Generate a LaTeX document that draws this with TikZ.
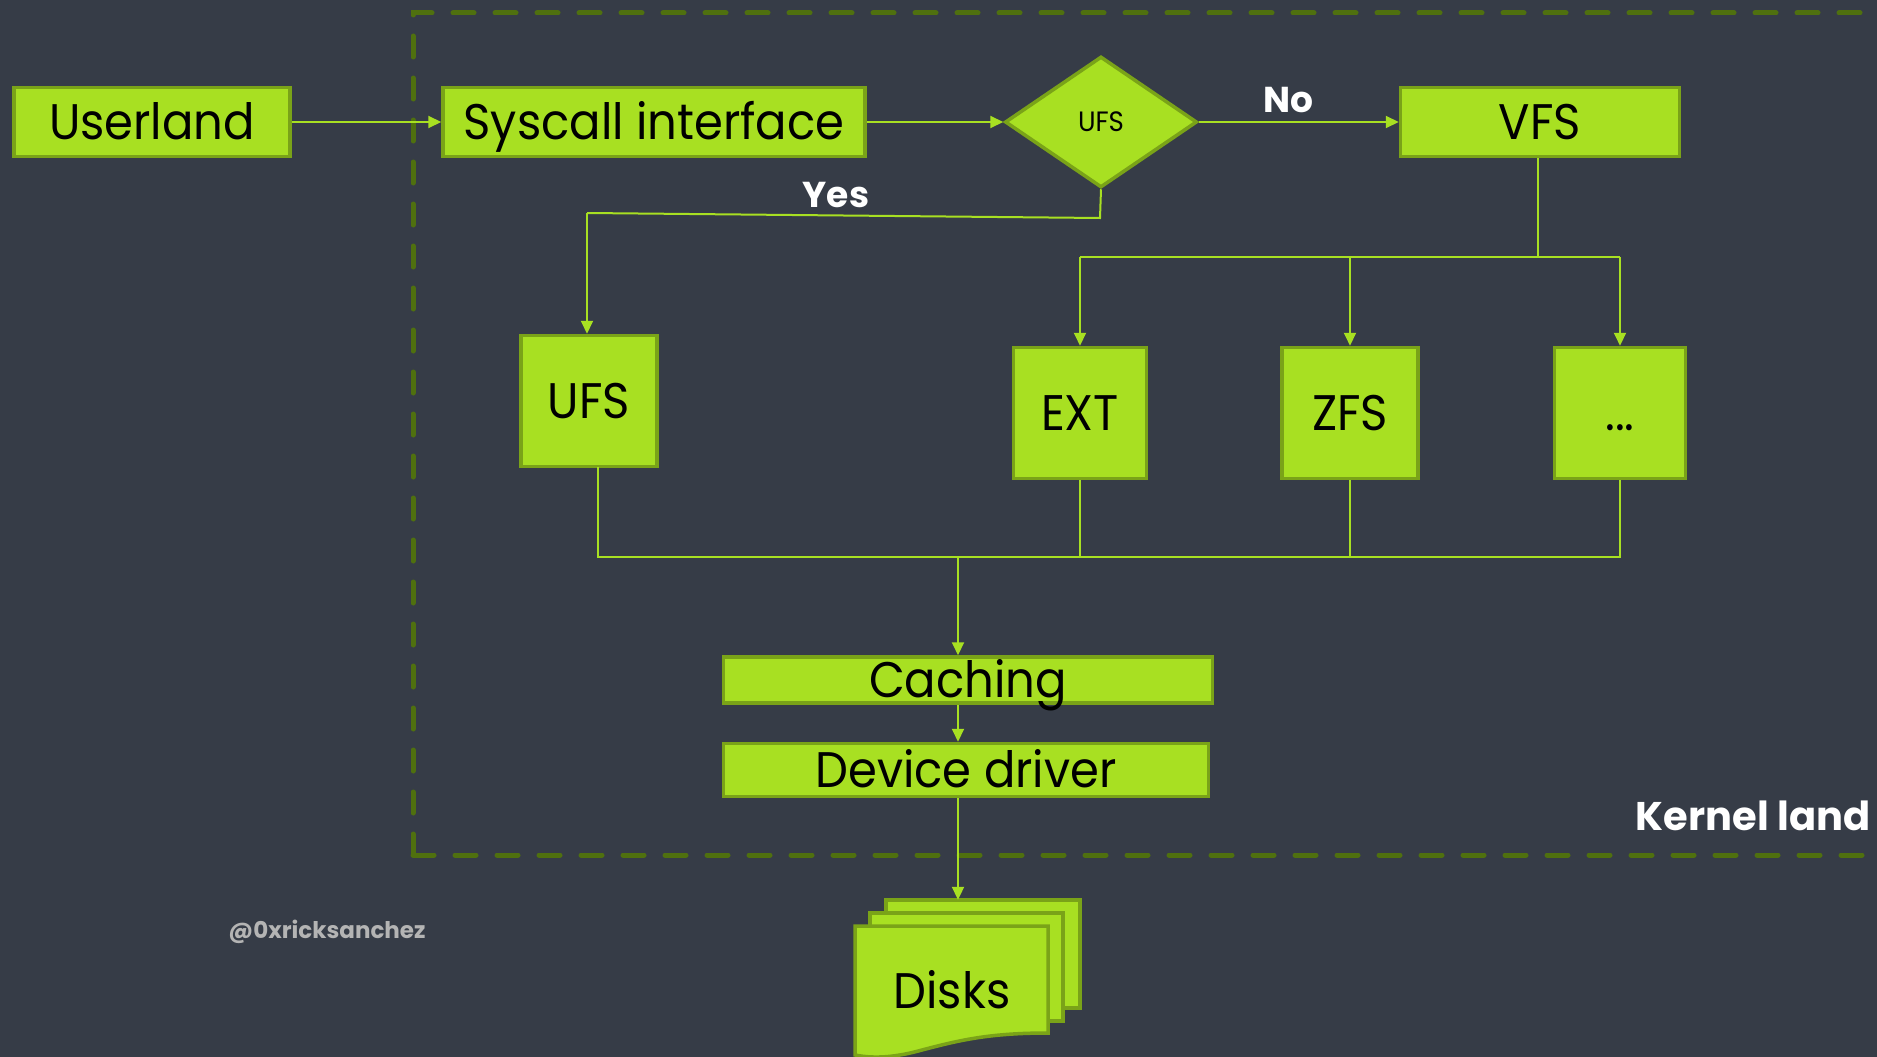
\documentclass[tikz,border=0pt]{standalone}
\usepackage{fontspec}
\setmainfont{Poppins}
\newfontfamily\labelfont{Poppins}[FakeStretch=0.93]
\usetikzlibrary{arrows.meta,shapes.geometric}
\definecolor{bg}{HTML}{363C47}
\definecolor{lime}{HTML}{A8E022}
\definecolor{limedark}{HTML}{7AA318}
\definecolor{olive}{HTML}{4F700F}
\definecolor{credit}{HTML}{B4B4B4}
\tikzset{
  box/.style={draw=limedark, fill=lime, line width=3.5pt, inner sep=0pt,
    text=black, text height=35pt, text depth=0pt,
    font=\labelfont\fontsize{50}{56}\selectfont},
  decision/.style={diamond, draw=limedark, fill=lime, line width=3.5pt,
    inner sep=0pt, text=black, text height=19.5pt, text depth=0pt,
    font=\labelfont\fontsize{28}{32}\selectfont},
  wire/.style={draw=lime, line width=2pt},
  flow/.style={wire, -{Triangle[length=13pt,width=12pt]}},
  answer/.style={text=white, font=\bfseries\fontsize{36}{40}\selectfont},
  sheet/.style={draw=limedark, fill=lime, line width=3.5pt, line join=miter}
}
\begin{document}
\begin{tikzpicture}[x=1pt,y=-1pt]
\useasboundingbox (0,0) rectangle (1877,1057);
\fill[bg] (0,0) rectangle (1877,1057);
\clip (0,0) rectangle (1877,1057);

% kernel boundary
\draw[olive, line width=5pt, line cap=round, dash pattern=on 21pt off 21pt]
  (413,855) -- (413,13) -- (1900,13);
\draw[olive, line width=5pt, line cap=round, dash pattern=on 21pt off 21pt]
  (413,855) -- (1900,855);
\node[answer, font=\bfseries\fontsize{40}{44}\selectfont, anchor=east] (kernel) at (1874,816) {Kernel land};

% top row
\node[box, minimum width=276pt, minimum height=69pt] (user) at (152,122) {Userland};
\node[box, minimum width=422pt, minimum height=69pt] (sys) at (654,122) {Syscall interface};
\node[decision, minimum width=192pt, minimum height=131pt] (isufs) at (1101,122) {UFS};
\node[box, minimum width=279pt, minimum height=69pt] (vfs) at (1540,122) {VFS};

\draw[flow] (user) -- (sys);
\draw[flow] (sys) -- (isufs);
\draw[flow] (isufs) -- (vfs);
\node[answer] (no) at (1288,100) {No};
\node[answer] (yes) at (836,195) {Yes};

% file systems
\node[box, minimum width=136pt, minimum height=131pt] (ufs) at (589,401) {UFS};
\node[box, minimum width=133pt, minimum height=131pt] (ext) at (1080,413) {EXT};
\node[box, minimum width=136pt, minimum height=131pt] (zfs) at (1350,413) {ZFS};
\node[box, minimum width=131pt, minimum height=131pt] (more) at (1620,413) {...};

% yes branch
\coordinate (ybend) at (1100,218);
\coordinate (yleft) at (587,213);
\draw[wire] (isufs.south) -- (ybend) -- (yleft);
\draw[flow] (yleft) -- (yleft |- ufs.north);

% vfs fan-out
\coordinate (vsplit) at (1538,257);
\draw[wire] (vfs.south -| vsplit) -- (vsplit);
\draw[wire] (ext.north |- vsplit) -- (more.north |- vsplit);
\draw[flow] (ext.north |- vsplit) -- (ext.north);
\draw[flow] (zfs.north |- vsplit) -- (zfs.north);
\draw[flow] (more.north |- vsplit) -- (more.north);

% merge into cache
\node[box, minimum width=489pt, minimum height=46pt] (cache) at (968,680) {Caching};
\node[box, minimum width=485pt, minimum height=53pt] (driver) at (966,770) {Device driver};
\coordinate (ufsout) at (598,467);
\coordinate (merge) at (958,557);
\draw[wire] (ufsout) -- (ufsout |- merge) -- (more.south |- merge) -- (more.south);
\draw[wire] (ext.south) -- (ext.south |- merge);
\draw[wire] (zfs.south) -- (zfs.south |- merge);
\draw[flow] (merge) -- (merge |- cache.north);
\draw[flow] (merge |- cache.south) -- (merge |- driver.north);

% disks
\node[minimum width=194pt, minimum height=108pt, inner sep=0pt] (diskback) at (983,954) {};
\draw[sheet] (diskback.south west) rectangle (diskback.north east);
\draw[sheet] (870,913) rectangle (1063,1021);
\draw[sheet] (855,926) -- (1048,926) -- (1048,1033)
  .. controls (990,1033) and (960,1040) .. (922,1050)
  .. controls (897,1057) and (875,1059) .. (855,1055) -- cycle;
\node[text=black, text height=35pt, text depth=0pt,
  font=\labelfont\fontsize{50}{56}\selectfont] (disks) at (952,991) {Disks};
\draw[flow] (merge |- driver.south) -- (merge |- diskback.north);

% credit
\node[text=credit, font=\bfseries\fontsize{23}{27}\selectfont] (credit) at (327,932) {@0xricksanchez};
\end{tikzpicture}
\end{document}
